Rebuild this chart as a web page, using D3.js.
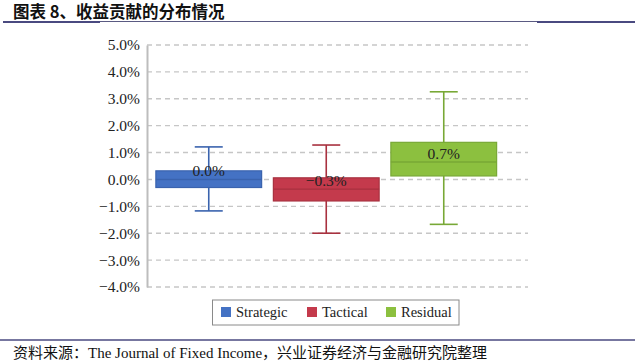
<!DOCTYPE html>
<html>
<head>
<meta charset="utf-8">
<script src="https://cdn.jsdelivr.net/npm/d3@7"></script>
<style>
  body { margin: 0; background: #fff; }
  svg { display: block; }
</style>
</head>
<body>
<svg width="639" height="362"></svg>
<script>
var categories = ["Strategic", "Tactical", "Residual"];
var mins    = [-1.17, -2.00, -1.67];
var q1s     = [-0.30, -0.80, 0.13];
var medians = [0.00, -0.36, 0.65];
var q3s     = [0.32, 0.06, 1.38];
var maxs    = [1.21, 1.28, 3.26];
var labelValues = [0.0, -0.3, 0.7];
var yTicks = [-4, -3, -2, -1, 0, 1, 2, 3, 4, 5];

var fills   = ["#4472c4", "#c43a4c", "#8cc03f"];
var strokes = ["#3a63ae", "#a8313f", "#78a836"];

var serif = "'Liberation Serif', 'Times New Roman', serif";
var cjk = "'Liberation Serif', 'Noto Sans CJK SC', serif";

var svg = d3.select("svg");
var margin = {left: 147, right: 528, top: 45, bottom: 287};

var y = d3.scaleLinear().domain([-4, 5]).range([margin.bottom, margin.top]);
var x = d3.scaleBand().domain(categories).range([150, 502.5])
  .paddingInner(0.1).paddingOuter(0.05);

var boxes = categories.map(function (c, i) {
  return {name: c, min: mins[i], q1: q1s[i], med: medians[i], q3: q3s[i], max: maxs[i],
          label: labelValues[i], fill: fills[i], stroke: strokes[i]};
});

// title + rules
svg.append("text")
  .attr("x", 13).attr("y", 18)
  .style("font-family", "'Noto Sans CJK SC', sans-serif")
  .style("font-weight", "bold")
  .style("font-size", "16.5px")
  .attr("fill", "#111")
  .text("图表 8、收益贡献的分布情况");

svg.append("line").attr("x1", 3).attr("x2", 635).attr("y1", 21.5).attr("y2", 21.5)
  .attr("stroke", "#5a5a82").attr("stroke-width", 1);
svg.append("line").attr("x1", 3).attr("x2", 100).attr("y1", 22).attr("y2", 22)
  .attr("stroke", "#4a4a80").attr("stroke-width", 2);
svg.append("line").attr("x1", 537).attr("x2", 635).attr("y1", 22).attr("y2", 22)
  .attr("stroke", "#4a4a80").attr("stroke-width", 2);

// grid
svg.append("g").selectAll("line")
  .data(yTicks)
  .enter()
  .append("line")
  .attr("x1", margin.left).attr("x2", margin.right)
  .attr("y1", function (d) { return y(d); })
  .attr("y2", function (d) { return y(d); })
  .attr("stroke", "#c6c6c6")
  .attr("stroke-width", 1.4)
  .attr("stroke-dasharray", "5,4");

// y axis
var axisLeft = d3.axisLeft(y).tickValues(yTicks).tickSize(0).tickPadding(7)
  .tickFormat(function (d) { return d3.format(".1f")(d) + "%"; });
var ga = svg.append("g")
  .attr("transform", "translate(" + margin.left + ",0)")
  .call(axisLeft);
ga.select(".domain").attr("stroke", "#bdbdbd").attr("stroke-width", 2);
ga.selectAll("text")
  .style("font-family", serif)
  .style("font-size", "15.5px")
  .attr("fill", "#222");

// whiskers
var bw = x.bandwidth();
var g = svg.append("g").selectAll("g")
  .data(boxes)
  .enter()
  .append("g");

g.append("line")
  .attr("x1", function (d) { return x(d.name) + bw / 2; })
  .attr("x2", function (d) { return x(d.name) + bw / 2; })
  .attr("y1", function (d) { return y(d.max); })
  .attr("y2", function (d) { return y(d.min); })
  .attr("stroke", function (d) { return d.stroke; })
  .attr("stroke-width", 1.6);

["max", "min"].forEach(function (k) {
  g.append("line")
    .attr("x1", function (d) { return x(d.name) + bw / 2 - 14; })
    .attr("x2", function (d) { return x(d.name) + bw / 2 + 14; })
    .attr("y1", function (d) { return y(d[k]); })
    .attr("y2", function (d) { return y(d[k]); })
    .attr("stroke", function (d) { return d.stroke; })
    .attr("stroke-width", 1.6);
});

// boxes
g.append("rect")
  .attr("x", function (d) { return x(d.name); })
  .attr("width", bw)
  .attr("y", function (d) { return y(d.q3); })
  .attr("height", function (d) { return y(d.q1) - y(d.q3); })
  .attr("fill", function (d) { return d.fill; })
  .attr("stroke", function (d) { return d.stroke; })
  .attr("stroke-width", 1.2);

g.append("line")
  .attr("x1", function (d) { return x(d.name); })
  .attr("x2", function (d) { return x(d.name) + bw; })
  .attr("y1", function (d) { return y(d.med); })
  .attr("y2", function (d) { return y(d.med); })
  .attr("stroke", function (d) { return d.stroke; })
  .attr("stroke-width", 1.4);

g.append("text")
  .attr("x", function (d) { return x(d.name) + bw / 2; })
  .attr("y", function (d) { return y(d.med) - 3; })
  .attr("text-anchor", "middle")
  .style("font-family", serif)
  .style("font-size", "15.5px")
  .attr("fill", "#222")
  .text(function (d) { return d3.format(".1f")(d.label) + "%"; });

// legend
var legend = svg.append("g");
legend.append("rect")
  .attr("x", 212.5).attr("y", 300).attr("width", 246.5).attr("height", 25)
  .attr("fill", "#fff").attr("stroke", "#8a8a8a").attr("stroke-width", 1);
var legendX = [221, 307, 386];
var li = legend.selectAll("g.item")
  .data(boxes)
  .enter()
  .append("g")
  .attr("class", "item")
  .attr("transform", function (d, i) { return "translate(" + legendX[i] + ",312)"; });
li.append("rect")
  .attr("x", 0).attr("y", -5).attr("width", 10).attr("height", 10)
  .attr("fill", function (d) { return d.fill; });
li.append("text")
  .attr("x", 15).attr("y", 5)
  .style("font-family", serif)
  .style("font-size", "14.5px")
  .attr("fill", "#222")
  .text(function (d) { return d.name; });

// footer
svg.append("line").attr("x1", 0).attr("x2", 635).attr("y1", 340).attr("y2", 340)
  .attr("stroke", "#4a4a80").attr("stroke-width", 1.5);
svg.append("text")
  .attr("x", 13).attr("y", 358)
  .style("font-family", cjk)
  .style("font-size", "15px")
  .attr("fill", "#111")
  .text("资料来源：The Journal of Fixed Income，兴业证券经济与金融研究院整理");
</script>
</body>
</html>
